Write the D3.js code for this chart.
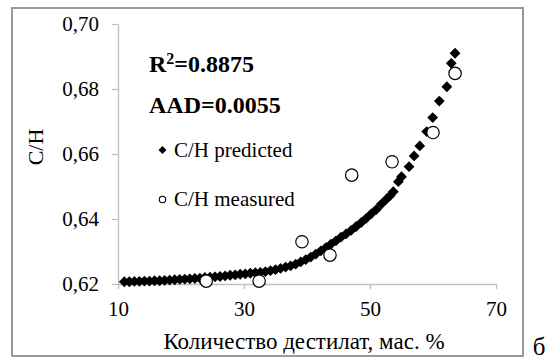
<!DOCTYPE html>
<html>
<head>
<meta charset="utf-8">
<script src="https://cdn.jsdelivr.net/npm/d3@7"></script>
<style>
  html, body { margin: 0; padding: 0; background: #fff; }
</style>
</head>
<body>
<svg id="chart" width="552" height="360"></svg>
<script>
// Predicted C/H along distillate yield (mass %)
const predX = [
  11.0, 11.8, 12.6, 13.4, 14.2, 15.0, 15.8, 16.6, 17.4, 18.2,
  19.0, 19.8, 20.6, 21.4, 22.2, 23.0, 23.8, 24.6, 25.4, 26.2,
  27.0, 27.8, 28.6, 29.4, 30.2, 31.0, 31.8, 32.6, 33.4, 34.2,
  35.0, 35.8, 36.6, 37.4, 38.2, 39.0, 39.8, 40.6, 41.4, 42.2,
  43.0, 43.8, 44.6, 45.4, 46.2, 47.0, 47.8, 48.6, 49.4, 50.2,
  51.0, 51.8, 52.6, 53.2, 53.7, 54.5, 55.0, 56.2, 57.0, 57.9,
  59.0, 59.95, 61.0, 62.2, 62.9, 63.5
];
const predY = [
  0.6207, 0.6207, 0.6208, 0.6208, 0.6209, 0.6209, 0.6210, 0.6210, 0.6211, 0.6212,
  0.6213, 0.6214, 0.6215, 0.6216, 0.6217, 0.6218, 0.6220, 0.6221, 0.6222, 0.6223,
  0.6225, 0.6227, 0.6228, 0.6230, 0.6231, 0.6233, 0.6235, 0.6236, 0.6238, 0.6241,
  0.6244, 0.6248, 0.6252, 0.6256, 0.6261, 0.6268, 0.6275, 0.6283, 0.6292, 0.6302,
  0.6312, 0.6323, 0.6333, 0.6344, 0.6354, 0.6365, 0.6377, 0.6389, 0.6402, 0.6416,
  0.6429, 0.6446, 0.6461, 0.6472, 0.6484, 0.6515, 0.6530, 0.6561, 0.6594, 0.6625,
  0.6669, 0.6712, 0.6763, 0.6807, 0.6879, 0.6910
];

// Measured C/H
const measX = [24.0, 32.4, 39.2, 43.65, 47.1, 53.5, 60.0, 63.5];
const measY = [0.6209, 0.6209, 0.6330, 0.6289, 0.6535, 0.6576, 0.6666, 0.6848];

const xTicks = [10, 30, 50, 70];
const yTicks = [0.62, 0.64, 0.66, 0.68, 0.70];
const statLines = ["=0.8875", "AAD=0.0055"];
const legendLabels = ["C/H predicted", "C/H measured"];
const xTitle = "Количество дестилат, мас. %";
const yTitle = "C/H";
const panelTag = "б";

const serif = "Liberation Serif";
const svg = d3.select("#chart").attr("font-family", serif);
const axisGrey = "#bfbfbf";

// outer chart frame
svg.append("rect")
  .attr("x", 12).attr("y", 8)
  .attr("width", 511).attr("height", 348)
  .attr("fill", "#fff")
  .attr("stroke", "#999").attr("stroke-width", 2);

const x = d3.scaleLinear().domain([10, 70]).range([118, 496]);
const y = d3.scaleLinear().domain([0.62, 0.70]).range([284, 24]);

// y axis
const gy = svg.append("g").attr("transform", "translate(118,0)")
  .call(d3.axisLeft(y).tickValues(yTicks).tickSize(6).tickSizeOuter(0).tickPadding(13)
    .tickFormat(d => d3.format(".2f")(d).replace(".", ",")));
gy.attr("font-family", serif).attr("font-size", 21);
gy.select(".domain").attr("stroke", axisGrey).attr("stroke-width", 1.3);
gy.selectAll(".tick line").attr("stroke", axisGrey).attr("stroke-width", 1.3);
gy.selectAll(".tick text").attr("fill", "#000");

// x axis
const gx = svg.append("g").attr("transform", "translate(0,284)")
  .call(d3.axisBottom(x).tickValues(xTicks).tickSize(5).tickSizeOuter(0).tickPadding(12.5));
gx.attr("font-family", serif).attr("font-size", 21);
gx.select(".domain").attr("stroke", axisGrey).attr("stroke-width", 1.3);
gx.selectAll(".tick line").attr("stroke", axisGrey).attr("stroke-width", 1.3);
gx.selectAll(".tick text").attr("fill", "#000");

// axis titles
svg.append("text")
  .attr("x", 304).attr("y", 349)
  .attr("text-anchor", "middle").attr("font-size", 23)
  .text(xTitle);
svg.append("text")
  .attr("transform", "translate(42.5,147) rotate(-90)")
  .attr("text-anchor", "middle").attr("font-size", 22)
  .text(yTitle);

// diamond marker path
const diamond = r => `M0,${-r}L${r},0L0,${r}L${-r},0Z`;

const predicted = predX.map((v, i) => ({ x: v, y: predY[i] }));
const measured = measX.map((v, i) => ({ x: v, y: measY[i] }));

svg.append("g").selectAll("path")
  .data(predicted).join("path")
  .attr("d", diamond(5.4))
  .attr("transform", d => `translate(${x(d.x)},${y(d.y)})`)
  .attr("fill", "#000");

svg.append("g").selectAll("circle")
  .data(measured).join("circle")
  .attr("cx", d => x(d.x)).attr("cy", d => y(d.y))
  .attr("r", 6.2)
  .attr("fill", "#fff").attr("stroke", "#000").attr("stroke-width", 1.2);

// statistics
const r2 = svg.append("text")
  .attr("x", 149).attr("y", 72)
  .attr("font-size", 24).attr("font-weight", "bold");
r2.append("tspan").text("R");
r2.append("tspan").attr("font-size", 16).attr("dy", -8).text("2");
r2.append("tspan").attr("dy", 8).text(statLines[0]);

svg.append("text")
  .attr("x", 149).attr("y", 113)
  .attr("font-size", 24).attr("font-weight", "bold")
  .text(statLines[1]);

// legend
svg.append("path")
  .attr("d", diamond(4))
  .attr("transform", "translate(162.5,150)")
  .attr("fill", "#000");
svg.append("text")
  .attr("x", 174).attr("y", 157)
  .attr("font-size", 21)
  .text(legendLabels[0]);
svg.append("circle")
  .attr("cx", 162.5).attr("cy", 199.5).attr("r", 3.2)
  .attr("fill", "#fff").attr("stroke", "#000").attr("stroke-width", 1.1);
svg.append("text")
  .attr("x", 174).attr("y", 206)
  .attr("font-size", 21)
  .text(legendLabels[1]);

// panel letter
svg.append("text")
  .attr("x", 539).attr("y", 355)
  .attr("text-anchor", "middle").attr("font-size", 25)
  .text(panelTag);
</script>
</body>
</html>
